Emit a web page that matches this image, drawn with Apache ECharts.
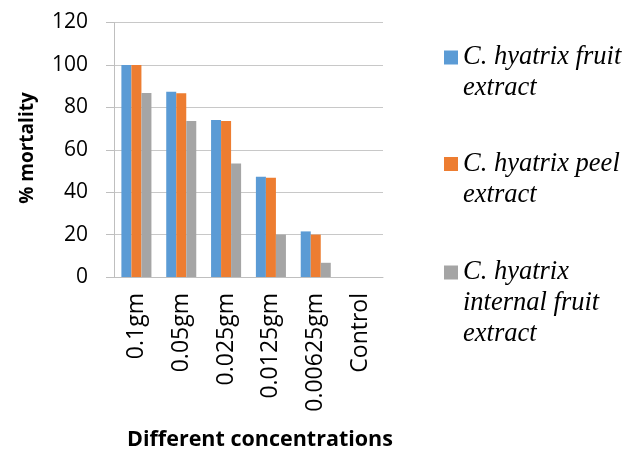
<!DOCTYPE html>
<html>
<head>
<meta charset="utf-8">
<script src="https://cdn.jsdelivr.net/npm/echarts@6/dist/echarts.min.js"></script>
<style>
html,body{margin:0;padding:0;background:#fff;}
#chart{width:636px;height:451px;}
</style>
</head>
<body>
<div id="chart"></div>
<script>
const categories = ['0.1gm', '0.05gm', '0.025gm', '0.0125gm', '0.00625gm', 'Control'];
const seriesNames = ['C. hyatrix fruit extract', 'C. hyatrix peel extract', 'C. hyatrix internal fruit extract'];
const legendLabels = ['C. hyatrix fruit\nextract', 'C. hyatrix peel\nextract', 'C. hyatrix\ninternal fruit\nextract'];
const fruitValues = [100, 87.3, 74, 47.3, 21.5, 0];
const peelValues = [100, 86.6, 73.5, 46.8, 20, 0];
const internalValues = [86.8, 73.5, 53.5, 20, 6.7, 0];
const yTicks = [0, 20, 40, 60, 80, 100, 120];
const colors = ['#5B9BD5', '#ED7D31', '#A5A5A5'];

const chart = echarts.init(document.getElementById('chart'));
const lineH = 31;
const iconCenters = [57.5, 164, 272.5];
const legends = seriesNames.map((name, i) => {
  const lines = legendLabels[i].split('\n');
  const n = lines.length;
  // prepend blank lines so that the first text line sits level with the icon
  const padded = Array(n - 1).fill(' ').concat(lines).join('\n');
  return {
    orient: 'vertical',
    left: 444,
    top: iconCenters[i] - (2 * n - 1) * lineH / 2,
    padding: 0,
    itemWidth: 14,
    itemHeight: 14,
    icon: 'rect',
    selectedMode: false,
    data: [name],
    formatter: () => padded,
    textStyle: {
      fontFamily: 'Liberation Serif',
      fontStyle: 'italic',
      fontSize: 26.5,
      lineHeight: lineH,
      color: '#000'
    }
  };
});

chart.setOption({
  animation: false,
  color: colors,
  grid: { left: 114, right: 253, top: 22.5, bottom: 174, containLabel: false },
  legend: legends,
  xAxis: {
    type: 'category',
    data: categories,
    axisLine: { lineStyle: { color: '#BFBFBF', width: 1 } },
    axisTick: { show: false },
    axisLabel: {
      rotate: 90,
      margin: 16,
      fontFamily: 'Open Sans',
      fontSize: 23,
      color: '#000',
      interval: 0
    }
  },
  yAxis: {
    type: 'value',
    min: yTicks[0],
    max: yTicks[yTicks.length - 1],
    interval: 20,
    axisLine: { show: true, lineStyle: { color: '#BFBFBF', width: 1 } },
    axisTick: { show: true, length: 8, lineStyle: { color: '#BFBFBF' } },
    splitLine: { lineStyle: { color: '#C8C8C8', width: 1 } },
    axisLabel: {
      margin: 26,
      fontFamily: 'Open Sans',
      fontSize: 21,
      color: '#000'
    }
  },
  graphic: [
    {
      type: 'text',
      x: 28, y: 148,
      rotation: Math.PI / 2,
      style: {
        text: '% mortality',
        fontFamily: 'Open Sans',
        fontWeight: 'bold',
        fontSize: 19,
        fill: '#000',
        textAlign: 'center',
        textVerticalAlign: 'middle'
      }
    },
    {
      type: 'text',
      x: 260, y: 440,
      style: {
        text: 'Different concentrations',
        fontFamily: 'Open Sans',
        fontWeight: 'bold',
        fontSize: 21.5,
        fill: '#000',
        textAlign: 'center',
        textVerticalAlign: 'middle'
      }
    }
  ],
  series: [
    { name: seriesNames[0], type: 'bar', data: fruitValues, barGap: '0%', barCategoryGap: '33%' },
    { name: seriesNames[1], type: 'bar', data: peelValues, barGap: '0%', barCategoryGap: '33%' },
    { name: seriesNames[2], type: 'bar', data: internalValues, barGap: '0%', barCategoryGap: '33%' }
  ]
});
</script>
</body>
</html>
